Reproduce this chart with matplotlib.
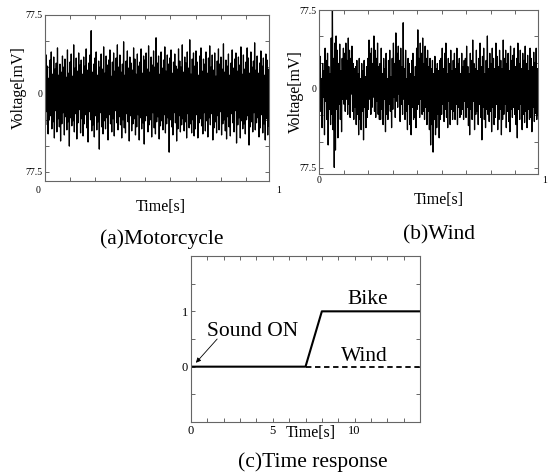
import numpy as np
import matplotlib
matplotlib.use("Agg")
import matplotlib.pyplot as plt

plt.rcParams['font.family'] = ['Liberation Serif', 'DejaVu Serif']

# ---------------- data ----------------
motor_mv = [
    22,-31,38,-18,27,-40,15,-26,33,-22,41,-35,19,-28,36,-44,24,-17,30,-38,
    45,-25,18,-33,29,-47,21,-30,37,-19,26,-41,34,-23,16,-36,43,-28,20,-52,
    31,-24,39,-32,17,-27,48,-38,25,-20,35,-45,22,-29,40,-16,28,-39,33,-25,
    19,-42,36,-30,27,-21,44,-34,23,-48,30,-18,38,-26,62,-37,21,-31,29,-43,
    35,-22,41,-36,18,-28,32,-55,26,-19,39,-33,24,-40,46,-27,20,-35,37,-24,
    28,-46,33,-21,43,-30,17,-38,31,-25,40,-42,22,-17,35,-29,48,-36,26,-23,
    38,-31,21,-44,29,-26,51,-34,18,-39,32,-20,42,-28,25,-47,36,-22,30,-37,
    23,-30,45,-25,34,-41,19,-33,39,-21,27,-46,31,-24,44,-35,20,-29,37,-50,
    33,-27,40,-22,24,-38,47,-31,21,-26,36,-43,28,-19,42,-34,26,-40,55,-28,
    30,-23,37,-45,19,-32,41,-27,25,-36,33,-21,46,-39,22,-30,38,-24,29,-58,
    35,-26,43,-33,20,-41,31,-19,39,-29,27,-47,24,-35,44,-22,32,-38,26,-31,
    48,-25,21,-37,36,-28,30,-44,41,-20,25,-34,53,-30,19,-39,34,-26,40,-42,
    27,-35,42,-21,31,-44,18,-29,37,-25,45,-32,22,-40,34,-19,29,-37,41,-27,
    20,-43,35,-24,47,-31,26,-20,38,-46,23,-34,40,-28,17,-39,32,-22,44,-36,
    29,-18,36,-41,24,-30,49,-26,21,-37,33,-45,27,-23,39,-33,18,-42,30,-20,
    43,-29,25,-38,34,-17,40,-49,22,-31,36,-24,28,-44,46,-27,19,-35,38,-30,
    24,-40,31,-26,45,-22,35,-51,20,-33,41,-28,26,-38,32,-19,50,-36,23,-29,
    37,-24,20,-43,30,-34,42,-21,27,-39,35,-30,18,-46,39,-25,33,-41,24,-32,
]

wind_mv = [
    20,-15,32,-22,10,-38,25,-8,18,-45,40,-12,28,-30,35,-55,22,-20,15,-35,
    50,-25,77,-40,30,-77,45,-60,52,-20,38,-48,25,-15,44,-30,18,-42,30,-10,
    40,-15,35,-22,45,-10,28,-25,50,-15,38,-28,30,-5,42,-22,25,-30,20,-18,
    22,-35,28,-25,15,-45,30,-30,10,-40,25,-22,18,-50,28,-18,12,-38,22,-28,
    30,-20,48,-10,35,-25,40,-18,25,-8,52,-22,38,-28,30,-12,45,-25,22,-30,
    25,-30,40,-20,15,-35,30,-10,20,-42,35,-25,10,-30,28,-15,38,-22,12,-38,
    30,-20,45,-8,25,-28,55,-12,35,-18,42,-5,28,-32,40,-15,22,-25,65,-10,
    20,-30,38,-22,10,-40,30,-15,25,-35,15,-45,28,-18,35,-30,12,-28,22,-38,
    40,-20,58,-15,30,-28,45,-10,35,-25,50,-22,25,-30,42,-18,30,-35,38,-22,
    22,-40,30,-55,20,-35,28,-62,15,-30,32,-45,20,-38,25,-25,18,-48,28,-30,
    30,-25,40,-15,20,-32,35,-20,45,-28,15,-38,30,-12,25,-35,38,-20,18,-30,
    28,-22,35,-30,20,-15,40,-35,25,-18,30,-28,15,-25,35,-20,22,-30,28,-12,
    30,-28,42,-18,22,-36,15,-45,35,-20,28,-30,48,-12,25,-40,20,-25,38,-22,
    18,-35,30,-15,45,-28,22,-50,32,-18,40,-30,15,-38,28,-20,52,-25,20,-32,
    35,-22,25,-42,40,-18,30,-35,20,-28,45,-15,32,-40,22,-30,38,-20,28,-45,
    20,-30,48,-25,30,-15,38,-38,25,-22,35,-32,18,-42,42,-20,28,-28,33,-18,
    40,-25,22,-35,30,-48,45,-20,25,-30,38,-15,20,-40,35,-25,28,-33,42,-22,
    25,-38,33,-20,18,-30,40,-28,30,-42,22,-18,36,-32,26,-24,40,-30,20,-26,
]

bike_t = [0, 7, 8, 14]
bike_y = [0, 0, 1, 1]
wind_t = [7, 14]
wind_y = [0, 0]

volt_ticklabels = ["77.5", "0", "77.5"]
resp_xticklabels = ["0", "5", "10"]
resp_yticklabels = ["0", "1"]

# ---------------- figure ----------------
W, H = 548, 475
fig = plt.figure(figsize=(W / 100, H / 100), dpi=100)

def rect(l, r, t, b):
    return [l / W, 1 - b / H, (r - l) / W, (b - t) / H]

frame_col = '#666666'

def style(ax):
    for s in ax.spines.values():
        s.set_color(frame_col)
        s.set_linewidth(0.8)
    ax.tick_params(direction='in', length=3, width=0.7, color=frame_col,
                   top=True, right=True, labelsize=7, pad=2)

def signal_panel(ax, vals, ylow, lab_pos):
    t = np.linspace(0, 1, len(vals))
    ax.plot(t, vals, color='black', lw=0.9)
    ax.set_xlim(0, 1)
    ax.set_ylim(ylow, 77.5)
    step = 77.5 / 3
    yt = [step * k for k in range(-3, 4)]
    ax.set_yticks(yt)
    labs = [""] * 7
    labs[0], labs[3], labs[6] = volt_ticklabels[2], volt_ticklabels[1], volt_ticklabels[0]
    ax.set_yticklabels(labs)
    ax.set_xticks([0.112 * k for k in range(1, 9)])
    ax.set_xticklabels([])
    style(ax)
    (x0, x1, yy) = lab_pos
    ax.text(x0, yy, "0", transform=ax.transAxes, fontsize=7, ha='center', va='center')
    ax.text(x1, yy, "1", transform=ax.transAxes, fontsize=7, ha='center', va='center')

axa = fig.add_axes(rect(45, 269, 15, 181))
signal_panel(axa, motor_mv, -86.5, (-0.03, 1.045, -0.055))
axb = fig.add_axes(rect(319, 538, 10, 174))
signal_panel(axb, wind_mv, -83.5, (0.0, 1.03, -0.04))

fig.text(19 / W, 1 - 88 / H, "Voltage[mV]", rotation=90, ha='center', va='center', fontsize=11.5)
fig.text(296 / W, 1 - 92 / H, "Voltage[mV]", rotation=90, ha='center', va='center', fontsize=11.5)
fig.text(161 / W, 1 - 207 / H, "Time[s]", ha='center', va='center', fontsize=11.5)
fig.text(439 / W, 1 - 200 / H, "Time[s]", ha='center', va='center', fontsize=11.5)
fig.text(162 / W, 1 - 239 / H, "(a)Motorcycle", ha='center', va='center', fontsize=15.5)
fig.text(439 / W, 1 - 235 / H, "(b)Wind", ha='center', va='center', fontsize=15.5)

# ---------------- panel (c) ----------------
axc = fig.add_axes(rect(191, 420, 256, 422))
axc.plot(wind_t, wind_y, color='black', lw=1.3, linestyle=(0, (3, 2)))
axc.plot(bike_t, bike_y, color='black', lw=1.5)
axc.set_xlim(0, 14)
axc.set_ylim(-1, 2)
axc.set_xticks(range(0, 15))
xl = [""] * 15
xl[0], xl[5], xl[10] = resp_xticklabels
axc.set_xticklabels(xl)
axc.set_yticks([-1, -0.5, 0, 0.5, 1, 1.5, 2])
axc.set_yticklabels(["", "", resp_yticklabels[0], "", resp_yticklabels[1], "", ""])
style(axc)
axc.tick_params(labelsize=9)
axc.text(0.524, -0.068, "Time[s]", transform=axc.transAxes, ha='center', va='center', fontsize=11.5)
axc.text(10.8, 1.22, "Bike", ha='center', va='center', fontsize=15.5)
axc.text(10.6, 0.19, "Wind", ha='center', va='center', fontsize=15.5)
axc.text(1.0, 0.64, "Sound ON", ha='left', va='center', fontsize=15.5)
axc.annotate("", xy=(0.3, 0.07), xytext=(1.6, 0.5),
             arrowprops=dict(arrowstyle='-|>', color='black', lw=0.6,
                             mutation_scale=7, shrinkA=0, shrinkB=0))
fig.text(313 / W, 1 - 462 / H, "(c)Time response", ha='center', va='center', fontsize=15.5)

fig.savefig("out.png", dpi=100)
